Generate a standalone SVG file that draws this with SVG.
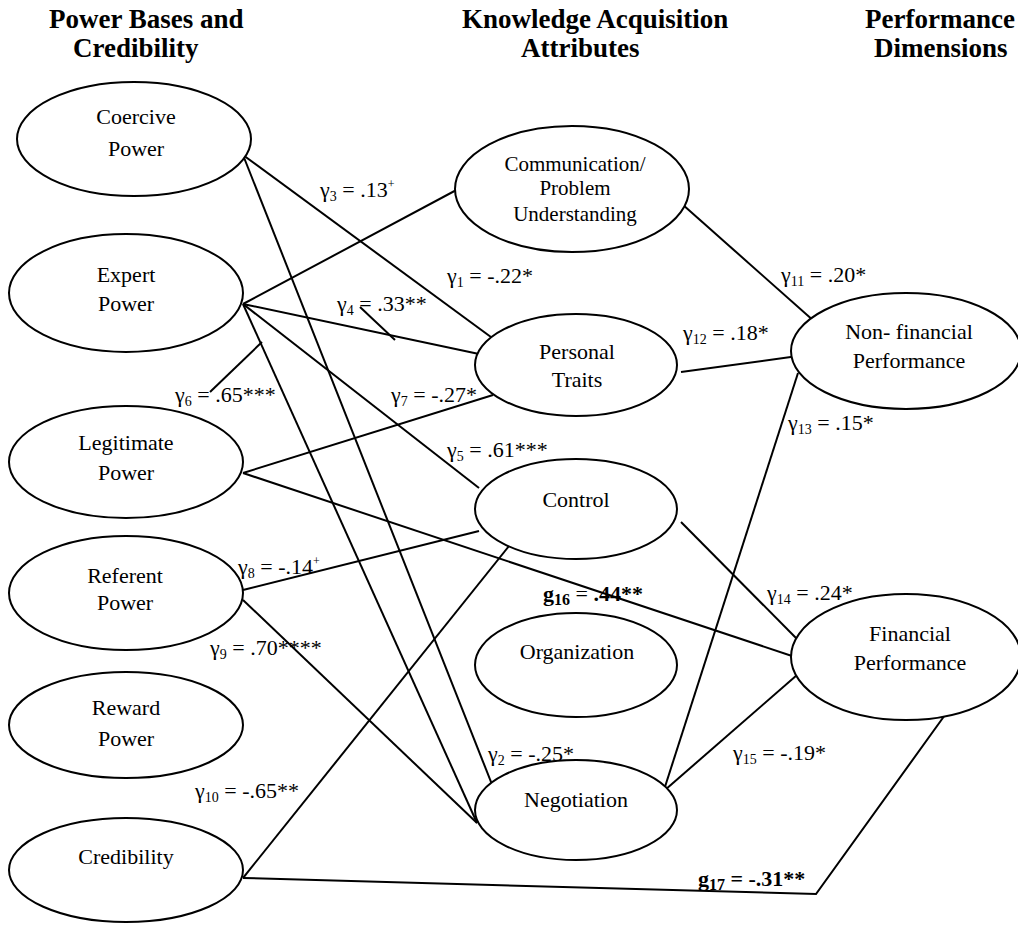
<svg xmlns="http://www.w3.org/2000/svg" width="1018" height="940" viewBox="0 0 1018 940">
<style>
.bg{fill:#fff}
.node ellipse{fill:#fff;stroke:#000;stroke-width:2}
.node text{font-family:'Times New Roman','Liberation Serif','DejaVu Serif',serif;font-size:22px;fill:#000;text-anchor:middle}
.node text.sm{font-size:21px}
.hdr{font-family:'Times New Roman','Liberation Serif','DejaVu Serif',serif;font-size:27px;font-weight:bold;fill:#000}
#connectors line,#connectors polyline{stroke:#000;stroke-width:2;fill:none}
.lbl{font-family:'Times New Roman','Liberation Serif','DejaVu Serif',serif;font-size:22px;fill:#000}
.sub{font-size:14px}
.sup{font-size:12px}
.b{font-weight:bold}
.bsub{font-size:16px;font-weight:bold}
</style>
<rect class="bg" x="0" y="0" width="1018" height="940"/>

<g id="headers">
<text class="hdr" x="49" y="28">Power Bases and</text>
<text class="hdr" x="73" y="57">Credibility</text>
<text class="hdr" x="462" y="28">Knowledge Acquisition</text>
<text class="hdr" x="521" y="57">Attributes</text>
<text class="hdr" x="865" y="28">Performance</text>
<text class="hdr" x="874" y="57">Dimensions</text>
</g>

<g id="connectors">
<line x1="243" y1="155" x2="495" y2="340"/>
<line x1="243" y1="155" x2="495" y2="792"/>
<line x1="243" y1="304" x2="462" y2="187"/>
<line x1="243" y1="304" x2="479" y2="354"/>
<line x1="243" y1="304" x2="479" y2="488"/>
<line x1="243" y1="304" x2="477" y2="823"/>
<line x1="243" y1="473" x2="493" y2="395"/>
<line x1="243" y1="473" x2="798" y2="658"/>
<line x1="243" y1="590" x2="479" y2="531"/>
<line x1="243" y1="600" x2="477" y2="823"/>
<line x1="243" y1="878" x2="513" y2="541"/>
<polyline points="243,878 816,894 950,708"/>
<line x1="682" y1="204" x2="815" y2="322"/>
<line x1="681" y1="372" x2="798" y2="356"/>
<line x1="663" y1="793" x2="798" y2="373"/>
<line x1="681" y1="522" x2="797" y2="639"/>
<line x1="665" y1="790" x2="797" y2="675"/>
<line x1="360" y1="307" x2="395" y2="340"/>
<line x1="210" y1="392" x2="262" y2="342"/>
</g>

<g id="coercive" class="node">
<ellipse cx="134" cy="139" rx="117" ry="57"/>
<text x="136" y="124">Coercive</text>
<text x="136" y="156">Power</text>
</g>
<g id="expert" class="node">
<ellipse cx="126" cy="293" rx="117" ry="59"/>
<text x="126" y="282">Expert</text>
<text x="126" y="311">Power</text>
</g>
<g id="legitimate" class="node">
<ellipse cx="126" cy="462" rx="117" ry="56"/>
<text x="126" y="450">Legitimate</text>
<text x="126" y="480">Power</text>
</g>
<g id="referent" class="node">
<ellipse cx="126" cy="593" rx="117" ry="57"/>
<text x="125" y="583">Referent</text>
<text x="125" y="610">Power</text>
</g>
<g id="reward" class="node">
<ellipse cx="126" cy="725" rx="117" ry="53"/>
<text x="126" y="715">Reward</text>
<text x="126" y="746">Power</text>
</g>
<g id="credibility" class="node">
<ellipse cx="126" cy="870" rx="117" ry="52"/>
<text x="126" y="864">Credibility</text>
</g>

<g id="communication" class="node">
<ellipse cx="572" cy="189" rx="117" ry="63"/>
<text class="sm" x="575" y="171">Communication/</text>
<text class="sm" x="575" y="195">Problem</text>
<text class="sm" x="575" y="221">Understanding</text>
</g>
<g id="personal" class="node">
<ellipse cx="576" cy="365" rx="101" ry="51"/>
<text x="577" y="359">Personal</text>
<text x="577" y="387">Traits</text>
</g>
<g id="control" class="node">
<ellipse cx="576" cy="509" rx="101" ry="50"/>
<text x="576" y="507">Control</text>
</g>
<g id="organization" class="node">
<ellipse cx="576" cy="665" rx="101" ry="52"/>
<text x="577" y="659">Organization</text>
</g>
<g id="negotiation" class="node">
<ellipse cx="576" cy="810" rx="101" ry="50"/>
<text x="576" y="807">Negotiation</text>
</g>

<g id="nonfinancial" class="node">
<ellipse cx="906" cy="351" rx="115" ry="58"/>
<text x="909" y="339">Non- financial</text>
<text x="909" y="368">Performance</text>
</g>
<g id="financial" class="node">
<ellipse cx="906" cy="657" rx="115" ry="63"/>
<text x="910" y="641">Financial</text>
<text x="910" y="670">Performance</text>
</g>

<g id="labels">
<text class="lbl" x="320" y="197">γ<tspan class="sub" dy="4">3</tspan><tspan dy="-4"> = .13</tspan><tspan class="sup" dy="-9">+</tspan></text>
<text class="lbl" x="447" y="283">γ<tspan class="sub" dy="4">1</tspan><tspan dy="-4"> = -.22*</tspan></text>
<text class="lbl" x="337" y="311">γ<tspan class="sub" dy="4">4</tspan><tspan dy="-4"> = .33**</tspan></text>
<text class="lbl" x="175" y="402">γ<tspan class="sub" dy="4">6</tspan><tspan dy="-4"> = .65***</tspan></text>
<text class="lbl" x="391" y="402">γ<tspan class="sub" dy="4">7</tspan><tspan dy="-4"> = -.27*</tspan></text>
<text class="lbl" x="447" y="457">γ<tspan class="sub" dy="4">5</tspan><tspan dy="-4"> = .61***</tspan></text>
<text class="lbl" x="238" y="574">γ<tspan class="sub" dy="4">8</tspan><tspan dy="-4"> = -.14</tspan><tspan class="sup" dy="-9">+</tspan></text>
<text class="lbl" x="210" y="655">γ<tspan class="sub" dy="4">9</tspan><tspan dy="-4"> = .70****</tspan></text>
<text class="lbl" x="195" y="798">γ<tspan class="sub" dy="4">10</tspan><tspan dy="-4"> = -.65**</tspan></text>
<text class="lbl" x="488" y="761">γ<tspan class="sub" dy="4">2</tspan><tspan dy="-4"> = -.25*</tspan></text>
<text class="lbl" x="781" y="282">γ<tspan class="sub" dy="4">11</tspan><tspan dy="-4"> = .20*</tspan></text>
<text class="lbl" x="683" y="340">γ<tspan class="sub" dy="4">12</tspan><tspan dy="-4"> = .18*</tspan></text>
<text class="lbl" x="788" y="430">γ<tspan class="sub" dy="4">13</tspan><tspan dy="-4"> = .15*</tspan></text>
<text class="lbl" x="767" y="600">γ<tspan class="sub" dy="4">14</tspan><tspan dy="-4"> = .24*</tspan></text>
<text class="lbl" x="733" y="760">γ<tspan class="sub" dy="4">15</tspan><tspan dy="-4"> = -.19*</tspan></text>
<text class="lbl" x="543" y="601"><tspan class="b">g</tspan><tspan class="bsub" dy="4">16</tspan><tspan dy="-4"> = </tspan><tspan class="b">.44**</tspan></text>
<text class="lbl b" x="698" y="886">g<tspan class="bsub" dy="4">17</tspan><tspan dy="-4"> = -.31**</tspan></text>
</g>
</svg>
